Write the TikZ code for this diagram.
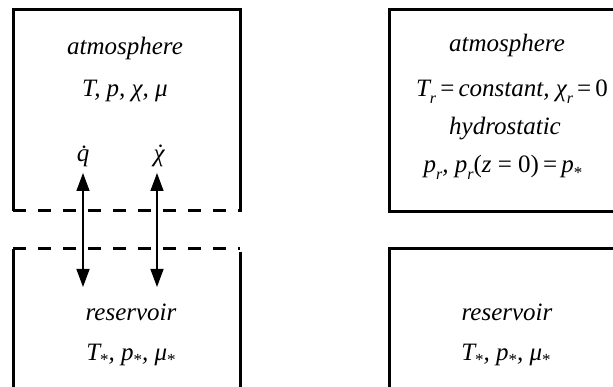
\documentclass[tikz,border=0pt]{standalone}
\usepackage{fontspec}
\setmainfont{Liberation Serif}
\usetikzlibrary{arrows.meta}
\newcommand\sbr[1]{\raisebox{-0.25em}{\fontsize{16}{16}\selectfont\itshape #1}}
\newcommand\sst{\raisebox{-0.22em}{\fontsize{17}{17}\selectfont\upshape *}}
\tikzset{
  lbl/.style={font=\fontsize{25}{28}\selectfont\itshape, inner sep=0pt, anchor=base},
  wall/.style={line width=3pt},
  gap/.style={line width=3pt, dash pattern=on 13pt off 12pt},
  flux/.style={line width=1.4pt, {Triangle[length=18pt,width=13pt]}-{Triangle[length=18pt,width=13pt]}}
}
\begin{document}
\begin{tikzpicture}[x=1pt,y=-1pt]
\useasboundingbox (0,0) rectangle (613,387);
% left boxes
\draw[wall] (13,211) -- (13,10) -- (240,10) -- (240,212);
\draw[gap] (13,211) -- (240,211);
\draw[gap] (13,249) -- (240,249);
\draw[wall] (13,249) -- (13,395);
\draw[wall] (240,252) -- (240,395);
% right boxes
\draw[wall] (625,10) -- (389,10) -- (389,212) -- (625,212);
\draw[wall] (625,249) -- (389,249) -- (389,395);
% left texts
\node[lbl] (atmL) at (125,55) {atmosphere};
\node[lbl] (varL) at (125,97) {T, p, χ, μ};
\node[lbl] (qdot) at (83,162) {q̇};
\node[lbl] (chidot) at (159,162) {\accent"02D9 χ};
\node[lbl] (resL) at (131,320) {reservoir};
\node[lbl] (starL) at (131,360) {T\sst, p\sst, μ\sst};
% right texts
\node[lbl] (atmR) at (507,52) {atmosphere};
\node[lbl] (varR) at (512,97) {T\sbr{r}\,{\upshape =}\,constant, χ\sbr{r}\,{\upshape =}\,{\upshape 0}};
\node[lbl] (hyd) at (505,135) {hydrostatic};
\node[lbl] (prs) at (503,173) {p\sbr{r}, p\sbr{r}{\upshape (}z {\upshape = 0)}\,{\upshape =}\,p\sst};
\node[lbl] (resR) at (507,320) {reservoir};
\node[lbl] (starR) at (506,360) {T\sst, p\sst, μ\sst};
% fluxes
\coordinate (qt) at (83,173);
\coordinate (qb) at (83,287);
\coordinate (ct) at (157,173);
\coordinate (cb) at (157,287);
\draw[flux] (qt) -- (qb);
\draw[flux] (ct) -- (cb);
\end{tikzpicture}
\end{document}
